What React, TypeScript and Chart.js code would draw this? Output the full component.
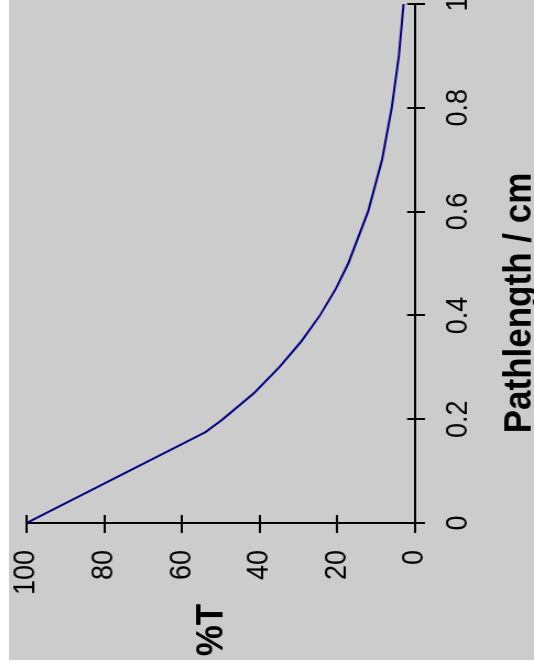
import React, { useEffect, useRef } from "react";
import { Chart, registerables } from "chart.js";

Chart.register(...registerables);

// Data (pathlength in cm, transmittance in %)
const pathlength = [0, 0.175, 0.2, 0.25, 0.3, 0.35, 0.4, 0.45, 0.5, 0.6, 0.7, 0.8, 0.9, 1.0];
const percentT = [100, 54, 49.5, 41.5, 35, 29.3, 24.5, 20.5, 17.2, 12.1, 8.5, 6.0, 4.2, 3.0];

// Tick values
const pathTicks = [0, 0.2, 0.4, 0.6, 0.8, 1];
const tTicks = [0, 20, 40, 60, 80, 100];

const xTitle = "Pathlength / cm";
const yTitle = "%T";

// Frame geometry (the chart is drawn in its own frame and rotated -90deg)
const CW = 680;
const CH = 477;
const FRAME_W = 525;
const FRAME_H = 660;
const S = FRAME_W / CH;
const FONT = '"Liberation Sans", Arial, sans-serif';

const crossTicks = {
  id: "crossTicks",
  afterDraw(chart: any) {
    const { ctx, chartArea, scales } = chart;
    const xs = scales.x;
    const ys = scales.y;
    ctx.save();
    ctx.strokeStyle = "#000";
    ctx.lineWidth = 2;
    ctx.beginPath();
    for (const v of pathTicks) {
      const px = Math.round(xs.getPixelForValue(v));
      ctx.moveTo(px, chartArea.bottom);
      ctx.lineTo(px, chartArea.bottom - 7.3);
    }
    for (const v of tTicks) {
      const py = Math.round(ys.getPixelForValue(v));
      ctx.moveTo(chartArea.left, py);
      ctx.lineTo(chartArea.left + 8, py);
    }
    ctx.stroke();

    ctx.fillStyle = "#000";
    ctx.font = `bold 35px ${FONT}`;
    ctx.textAlign = "center";
    ctx.textBaseline = "alphabetic";
    ctx.fillText(yTitle, chartArea.left - 107, chartArea.top + 178);
    ctx.fillText(xTitle, chartArea.left + 220, chartArea.bottom + 104.5);
    ctx.restore();
  },
};

export default function App() {
  const ref = useRef<HTMLCanvasElement | null>(null);

  useEffect(() => {
    if (!ref.current) return;
    const chart = new Chart(ref.current, {
      type: "line",
      data: {
        datasets: [
          {
            data: pathlength.map((x, i) => ({ x, y: percentT[i] })),
            borderColor: "#000080",
            borderWidth: 2,
            pointRadius: 0,
            tension: 0,
            fill: false,
          },
        ],
      },
      options: {
        animation: false,
        responsive: false,
        devicePixelRatio: 1,
        layout: { padding: { top: 16, right: 24, left: 0, bottom: 0 } },
        plugins: {
          legend: { display: false },
          tooltip: { enabled: false },
          title: { display: false },
        },
        scales: {
          x: {
            type: "linear",
            min: 0,
            max: 1,
            afterBuildTicks: (scale: any) => {
              scale.ticks = pathTicks.map((v) => ({ value: v }));
            },
            afterFit: (scale: any) => {
              scale.height = 108;
              scale.paddingLeft = 0;
              scale.paddingRight = 0;
            },
            ticks: {
              color: "#000",
              font: { family: FONT, size: 27 },
              padding: 14,
              maxRotation: 0,
              minRotation: 0,
              callback: (v: any) => String(v),
            },
            grid: {
              display: true,
              drawOnChartArea: false,
              drawTicks: true,
              tickLength: 9,
              color: "#000",
              lineWidth: 2,
            },
            border: { display: true, color: "#000", width: 2 },
          },
          y: {
            type: "linear",
            min: 0,
            max: 100,
            afterBuildTicks: (scale: any) => {
              scale.ticks = tTicks.map((v) => ({ value: v }));
            },
            afterFit: (scale: any) => {
              scale.width = 137;
              scale.paddingTop = 0;
              scale.paddingBottom = 0;
            },
            ticks: {
              color: "#000",
              font: { family: FONT, size: 27 },
              padding: 17,
              callback: (v: any) => String(v),
            },
            grid: {
              display: true,
              drawOnChartArea: false,
              drawTicks: true,
              tickLength: 10,
              color: "#000",
              lineWidth: 2,
            },
            border: { display: true, color: "#000", width: 2 },
          },
        },
      },
      plugins: [crossTicks],
    } as any);
    return () => chart.destroy();
  }, []);

  return (
    <div
      style={{
        position: "absolute",
        left: 9,
        top: 0,
        width: FRAME_W,
        height: FRAME_H,
        background: "#cccccc",
        overflow: "hidden",
      }}
    >
      <canvas
        ref={ref}
        width={CW}
        height={CH}
        style={{
          position: "absolute",
          left: 0,
          top: 0,
          transformOrigin: "0 0",
          transform: `translate(0px, ${FRAME_H}px) rotate(-90deg) scale(1, ${S})`,
        }}
      />
    </div>
  );
}
